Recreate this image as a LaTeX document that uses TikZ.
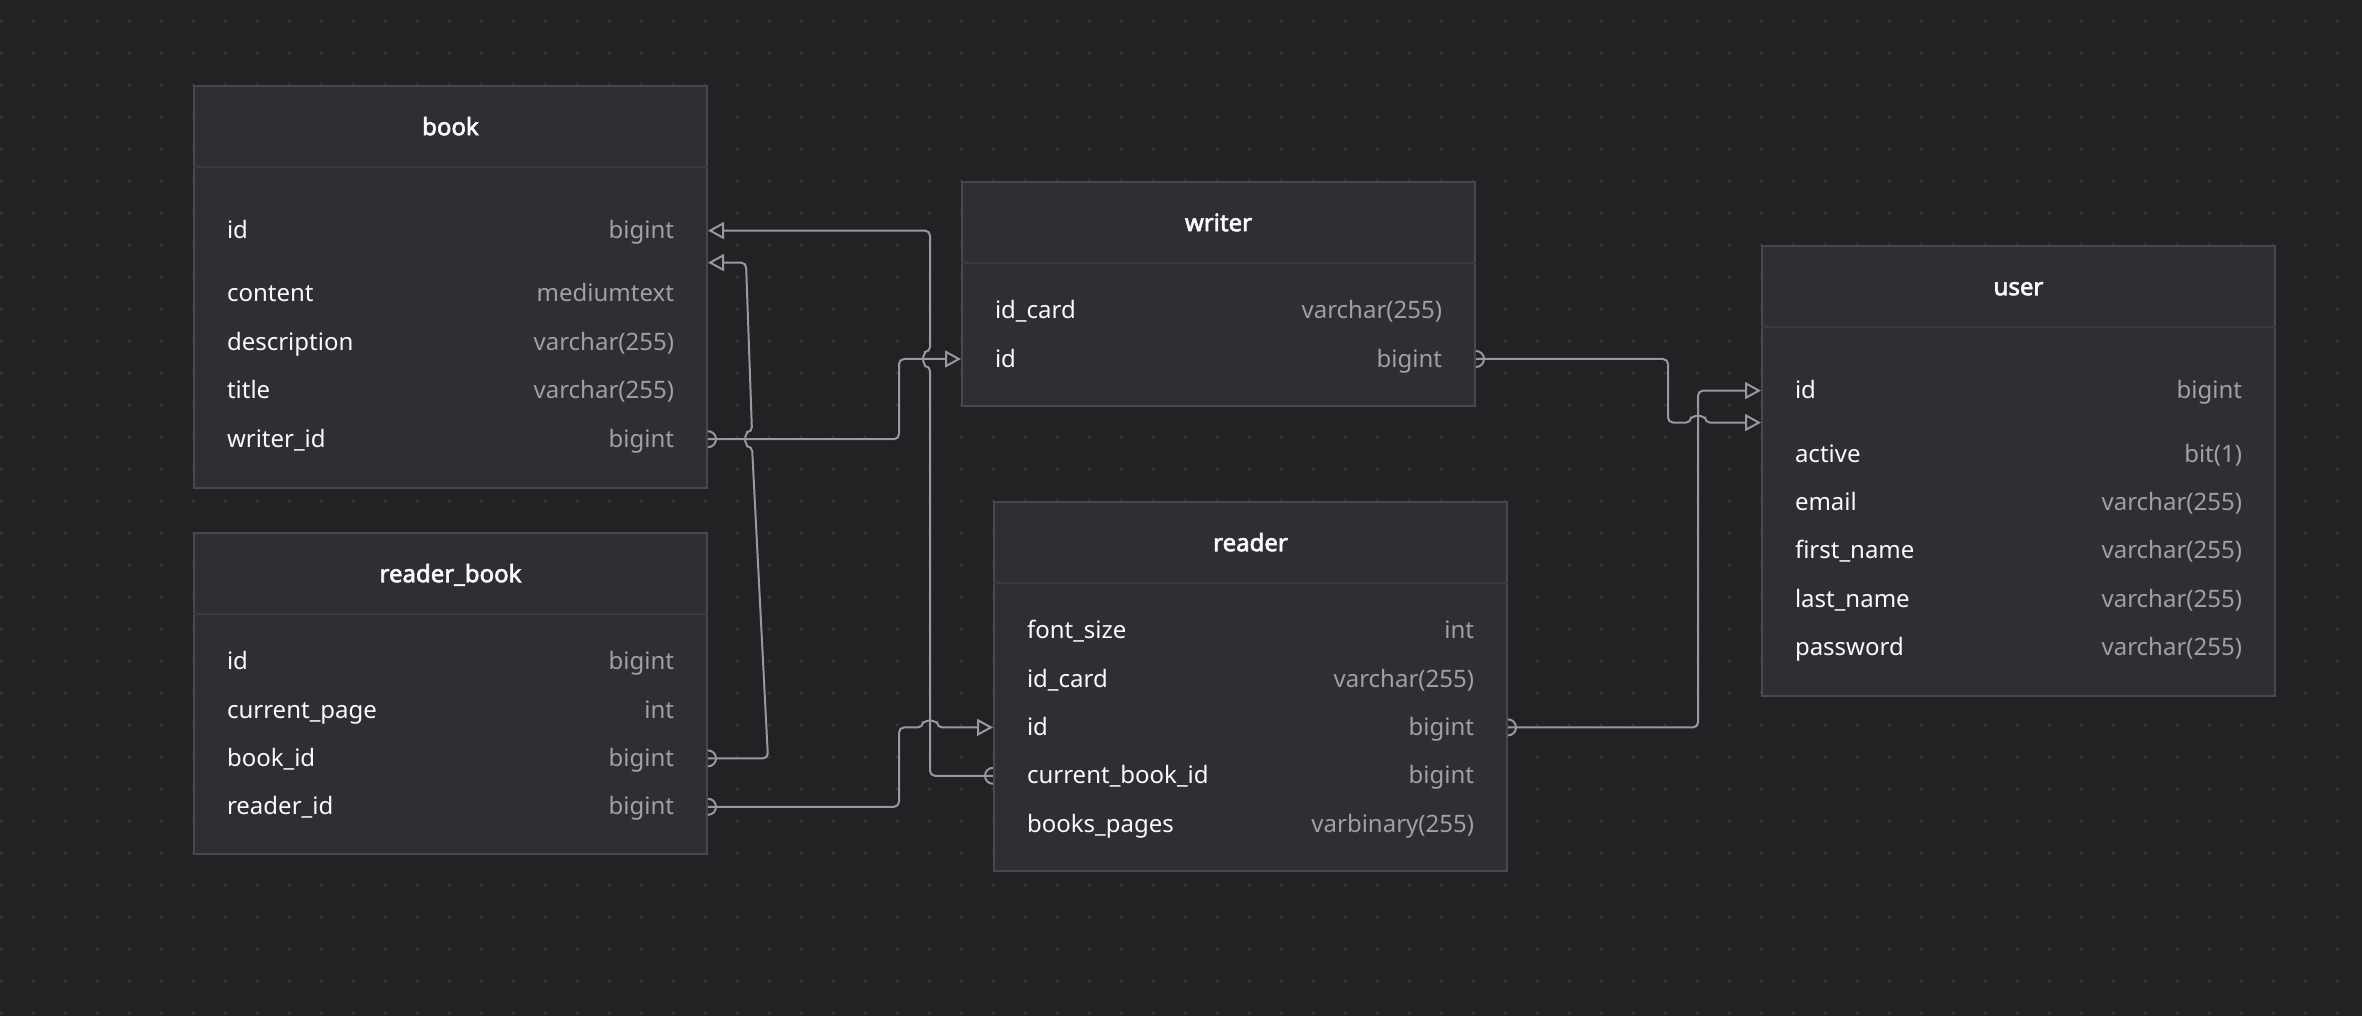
\documentclass[tikz,border=0pt]{standalone}
\usepackage{fontspec}
\setmainfont{Noto Sans}[AutoFakeBold=2.5]
\usetikzlibrary{arrows.meta, positioning, calc}

\definecolor{canvas}{RGB}{34,34,36}
\definecolor{griddot}{RGB}{52,52,55}
\definecolor{tablefill}{RGB}{46,47,52}
\definecolor{tableline}{RGB}{72,73,79}
\definecolor{headline}{RGB}{58,59,64}
\definecolor{wire}{RGB}{152,152,158}
\definecolor{fieldname}{RGB}{250,250,251}
\definecolor{fieldtype}{RGB}{160,160,166}

\pgfdeclarelayer{grid}
\pgfdeclarelayer{wires}
\pgfsetlayers{grid,wires,main}

\newcommand\ftype[1]{\hfill\textcolor{fieldtype}{#1}}

\begin{document}
\begin{tikzpicture}[
		x=1pt, y=-1pt,
		node distance=28pt,
		font=\fontsize{24}{28}\selectfont,
		entity/.style    ={draw=tableline, line width=2pt, fill=tablefill, minimum width=513pt, anchor=north west, inner sep=0pt},
		entityname/.style={font=\fontsize{24}{28}\selectfont\bfseries, text=fieldname, text height=18pt, text depth=2pt, inner sep=0pt},
		field/.style     ={text=fieldname, text width=447pt, align=left, text height=18pt, text depth=2pt, inner sep=0pt},
		headsep/.style   ={draw=headline, line width=2pt},
		link/.style      ={draw=wire, line width=2pt, rounded corners=5pt, -{Triangle[open, length=16pt, width=17pt]}},
		many/.style      ={draw=wire, line width=2pt}
		]
		
		% --- Canvas with dot grid ---
		\useasboundingbox (0,0) rectangle (2362,1016);
		\begin{pgfonlayer}{grid}
			\fill[canvas] (-6,-6) rectangle (2368,1022);
			\foreach \gx in {1,33,...,2362}
				\foreach \gy in {21,53,...,1016}
					\fill[griddot] (\gx,\gy) circle[radius=1.8];
		\end{pgfonlayer}
		
		% --- book ---
		\node[entity, minimum height=402pt] (book) at (193,85) {};
		\node[entityname, below=32pt of book.north] (book-name) {book};
		\draw[headsep] ($(book.north west)+(0,82)$) -- ($(book.north east)+(0,82)$);
		\node[field, below=83pt of book-name]        (book-id)          {id\ftype{bigint}};
		\node[field, below=43pt of book-id]          (book-content)     {content\ftype{mediumtext}};
		\node[field, below=of book-content]          (book-description) {description\ftype{varchar(255)}};
		\node[field, below=of book-description]      (book-title)       {title\ftype{varchar(255)}};
		\node[field, below=of book-title]            (book-writer)      {writer\_id\ftype{bigint}};
		
		% --- reader_book ---
		\node[entity, minimum height=321pt] (rb) at (193,532) {};
		\node[entityname, below=32pt of rb.north] (rb-name) {reader\_book};
		\draw[headsep] ($(rb.north west)+(0,82)$) -- ($(rb.north east)+(0,82)$);
		\node[field, below=67pt of rb-name]          (rb-id)      {id\ftype{bigint}};
		\node[field, below=of rb-id]                 (rb-page)    {current\_page\ftype{int}};
		\node[field, below=of rb-page]               (rb-book)    {book\_id\ftype{bigint}};
		\node[field, below=of rb-book]               (rb-reader)  {reader\_id\ftype{bigint}};
		
		% --- writer ---
		\node[entity, minimum height=224pt] (writer) at (961,181) {};
		\node[entityname, below=32pt of writer.north] (writer-name) {writer};
		\draw[headsep] ($(writer.north west)+(0,82)$) -- ($(writer.north east)+(0,82)$);
		\node[field, below=67pt of writer-name]      (writer-card) {id\_card\ftype{varchar(255)}};
		\node[field, below=of writer-card]           (writer-id)   {id\ftype{bigint}};
		
		% --- reader ---
		\node[entity, minimum height=369pt] (reader) at (993,501) {};
		\node[entityname, below=32pt of reader.north] (reader-name) {reader};
		\draw[headsep] ($(reader.north west)+(0,82)$) -- ($(reader.north east)+(0,82)$);
		\node[field, below=67pt of reader-name]      (reader-font)  {font\_size\ftype{int}};
		\node[field, below=of reader-font]           (reader-card)  {id\_card\ftype{varchar(255)}};
		\node[field, below=of reader-card]           (reader-id)    {id\ftype{bigint}};
		\node[field, below=of reader-id]             (reader-cbid)  {current\_book\_id\ftype{bigint}};
		\node[field, below=of reader-cbid]           (reader-pages) {books\_pages\ftype{varbinary(255)}};
		
		% --- user ---
		\node[entity, minimum height=450pt] (user) at (1761,245) {};
		\node[entityname, below=32pt of user.north] (user-name) {user};
		\draw[headsep] ($(user.north west)+(0,82)$) -- ($(user.north east)+(0,82)$);
		\node[field, below=83pt of user-name]        (user-id)     {id\ftype{bigint}};
		\node[field, below=43pt of user-id]          (user-active) {active\ftype{bit(1)}};
		\node[field, below=of user-active]           (user-email)  {email\ftype{varchar(255)}};
		\node[field, below=of user-email]            (user-first)  {first\_name\ftype{varchar(255)}};
		\node[field, below=of user-first]            (user-last)   {last\_name\ftype{varchar(255)}};
		\node[field, below=of user-last]             (user-pass)   {password\ftype{varchar(255)}};
		
		% vertical runs of the connectors
		\coordinate (busA) at ($(book.east)+(191,0)$);
		\coordinate (busB) at ($(writer.west)+(-31,0)$);
		\coordinate (busC) at ($(writer.east)+(192,0)$);
		\coordinate (busD) at ($(user.west)+(-63,0)$);
		
		% --- Relations (behind the tables) ---
		\begin{pgfonlayer}{wires}
			% reader.current_book_id -> book.id
			\draw[many] (reader.west |- reader-cbid) circle[radius=8];
			\draw[link] (reader.west |- reader-cbid) -- (busB |- reader-cbid)
				-- ($(busB |- writer-id)+(0,7)$) arc[start angle=90, end angle=270, radius=7]
				-- (busB |- book-id) -- (book.east |- book-id);
			
			% book.writer_id -> writer.id
			\draw[many] (book.east |- book-writer) circle[radius=8];
			\draw[link] (book.east |- book-writer) -- (busA |- book-writer)
				-- (busA |- writer-id) -- (writer.west |- writer-id);
			
			% reader_book.book_id -> book
			\draw[many] (rb.east |- rb-book) circle[radius=8];
			\draw[link] (rb.east |- rb-book) -- ++(60,0)
				-- ($(book.east |- book-writer)+(44,7)$) arc[start angle=90, end angle=270, radius=7]
				-- ($(book.east |- book-id)+(38,32)$) -- ($(book.east |- book-id)+(0,32)$);
			
			% reader_book.reader_id -> reader.id
			\draw[many] (rb.east |- rb-reader) circle[radius=8];
			\draw[link] (rb.east |- rb-reader) -- (busA |- rb-reader) -- (busA |- reader-id)
				-- ($(busB |- reader-id)+(-7,0)$) arc[start angle=180, end angle=360, radius=7]
				-- (reader.west |- reader-id);
			
			% writer.id -> user
			\draw[many] (writer.east |- writer-id) circle[radius=8];
			\draw[link] (writer.east |- writer-id) -- (busC |- writer-id)
				-- ($(busC |- user-id)+(0,32)$)
				-- ($(busD |- user-id)+(-7,32)$) arc[start angle=180, end angle=360, radius=7]
				-- ($(user.west |- user-id)+(0,32)$);
			
			% reader.id -> user.id
			\draw[many] (reader.east |- reader-id) circle[radius=8];
			\draw[link] (reader.east |- reader-id) -- (busD |- reader-id)
				-- (busD |- user-id) -- (user.west |- user-id);
		\end{pgfonlayer}
		
	\end{tikzpicture}
\end{document}
